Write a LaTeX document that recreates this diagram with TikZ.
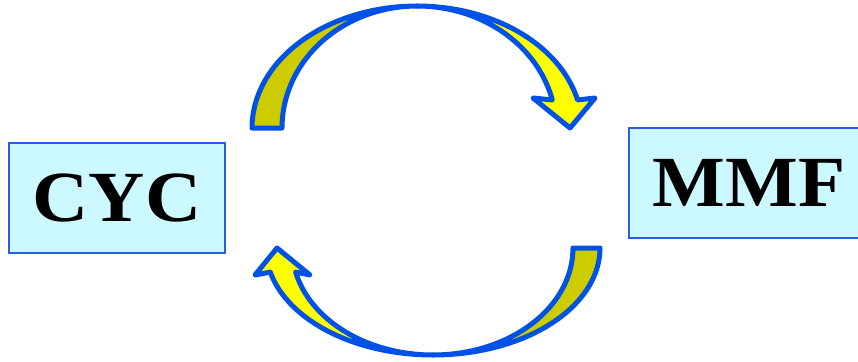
\documentclass[tikz,border=0pt]{standalone}
\usepackage{fontspec}
\setmainfont{Liberation Serif}
\usetikzlibrary{
  positioning,
  calc
}
\definecolor{cycblue}{HTML}{0052E6}
\definecolor{cycframe}{HTML}{2A5CE8}
\definecolor{cyccyan}{HTML}{CCF8FF}
\definecolor{cycyellow}{HTML}{FFFF00}
\definecolor{cycolive}{HTML}{CCCC00}

\begin{document}
\begin{tikzpicture}[
      x=1pt, y=-1pt,
      box/.style={
        rectangle, draw=cycframe, line width=1.6pt, fill=cyccyan,
        minimum height=110pt, inner sep=0pt,
        font=\fontsize{72}{72}\selectfont\bfseries
      },
      band/.style={draw=cycblue, line width=5pt, line join=round}
    ]
      \useasboundingbox (0,0) rectangle (858,361);
      \clip (0,0) rectangle (858,361);

      \node[box, minimum width=216pt] (cyc) at (117,198) {\scalebox{1.08}[1]{CYC}};
      \node[box, minimum width=240pt] (mmf) at (749,183) {\scalebox{1.07}[1]{MMF}};

      % upper arrow, cyc -> mmf
      \filldraw[band, fill=cycolive]
        plot[domain=180:90, samples=40] ({417+165*cos(\x)},{128-122*sin(\x)})
        -- plot[domain=90:180, samples=40] ({417+135*cos(\x)},{128-122*sin(\x)}) -- cycle;
      \filldraw[band, fill=cycyellow]
        plot[domain=90:13.3, samples=40] ({417+165*cos(\x)},{128-122*sin(\x)})
        -- (595,98) -- (570,128) -- (533,98)
        -- plot[domain=13.3:90, samples=40] ({417+139*cos(\x)},{128-122*sin(\x)}) -- cycle;

      % lower arrow, mmf -> cyc
      \filldraw[band, fill=cycolive]
        plot[domain=0:-90, samples=40] ({433+167*cos(\x)},{248-107*sin(\x)})
        -- plot[domain=-90:0, samples=40] ({433+140*cos(\x)},{248-107*sin(\x)}) -- cycle;
      \filldraw[band, fill=cycyellow]
        plot[domain=-90:-167, samples=40] ({433+167*cos(\x)},{248-107*sin(\x)})
        -- (255,275) -- (277,248) -- (310,275)
        -- plot[domain=-167:-90, samples=40] ({433+141*cos(\x)},{248-107*sin(\x)}) -- cycle;
    \end{tikzpicture}
\end{document}
